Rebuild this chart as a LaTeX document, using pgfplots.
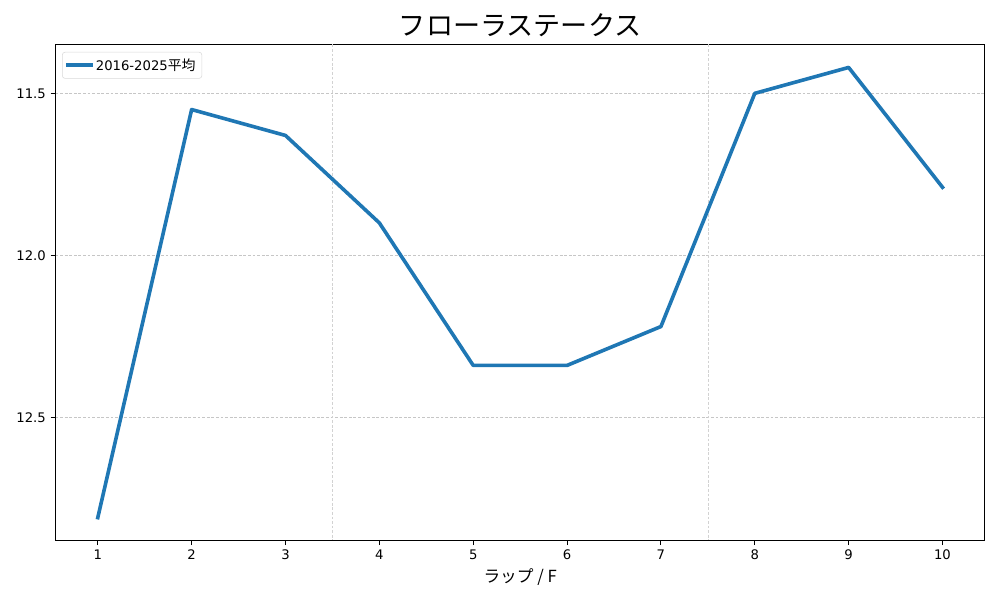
\documentclass[border=0pt]{standalone}
\usepackage{pgfplots}
\pgfplotsset{compat=1.18}
\usepackage{fontspec}
\setmainfont{Noto Sans CJK JP}
\newfontfamily\dejavu{DejaVu Sans}
\definecolor{mplblue}{HTML}{1F77B4}
\begin{document}
\begin{tikzpicture}
\begin{axis}[
  scale only axis,
  width=669pt, height=357pt,
  xmin=0.55, xmax=10.45,
  ymin=11.349, ymax=12.88,
  y dir=reverse,
  xtick={1,...,10},
  ytick={11.5,12,12.5},
  yticklabel style={/pgf/number format/.cd, fixed, fixed zerofill, precision=1},
  /pgf/number format/assume math mode=true,
  tick align=outside,
  tick pos=left,
  major tick length=3.5pt,
  ymajorgrids,
  grid style={gray!45, dash pattern=on 2pt off 1.3pt, line width=0.3pt},
  extra x ticks={3.5,7.5},
  extra x tick labels={},
  extra x tick style={grid=major, major tick length=0pt, grid style={gray!35, dash pattern=on 2pt off 1.3pt, line width=0.3pt}},
  axis line style={line width=0.8pt},
  tick style={black, line width=0.8pt},
  ticklabel style={font=\dejavu\fontsize{9.5}{11}\selectfont},
  title={フローラステークス},
  title style={font=\fontsize{19.5}{23}\selectfont, yshift=-4pt},
  xlabel={ラップ / F},
  xlabel style={font=\fontsize{12}{14}\selectfont, yshift=4pt},
  legend style={font=\fontsize{10}{12}\selectfont, draw=gray!30, rounded corners=2pt, at={(0.007,0.985)}, anchor=north west, inner sep=2.5pt},
  legend cell align=left,
]
\addplot[mplblue, line width=2.6pt, line join=round, line cap=rect] coordinates {
  (1,12.81) (2,11.55) (3,11.63) (4,11.90) (5,12.34)
  (6,12.34) (7,12.22) (8,11.50) (9,11.42) (10,11.79)
};
\addlegendentry{{\dejavu\fontsize{9.5}{11}\selectfont 2016-2025}平均}
\end{axis}
\path (current axis.south west) ++(-40pt,-43pt) coordinate (a);
\path (current axis.north east) ++(11pt,32pt) coordinate (b);
\path (a) rectangle (b);
\end{tikzpicture}
\end{document}
